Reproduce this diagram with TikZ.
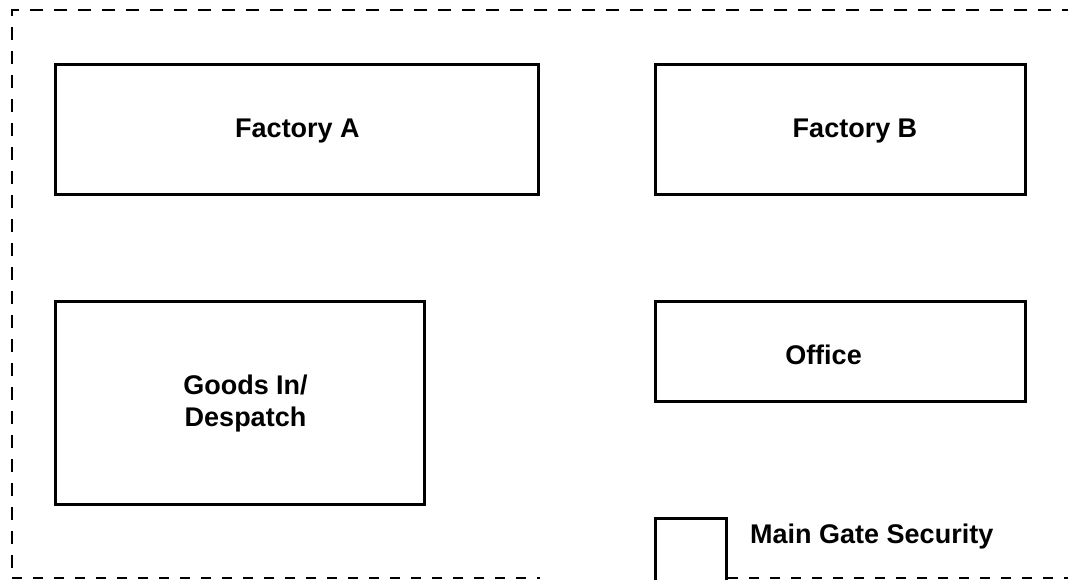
\documentclass[tikz,border=0pt]{standalone}
\usepackage{fontspec}
\setmainfont{Liberation Sans}
\begin{document}
\begin{tikzpicture}[x=1pt,y=-1pt,
  building/.style={draw=black,line width=3pt,inner sep=0pt,outer sep=0pt},
  lbl/.style={font=\bfseries\fontsize{27}{32}\selectfont,inner sep=0pt,align=center},
  fence/.style={draw=black,line width=2pt,dash pattern=on 13pt off 11pt},
  fencelow/.style={draw=black,line width=2.2pt,dash pattern=on 10pt off 11pt}]
\useasboundingbox (0,0) rectangle (1068,579);
\clip (0,0) rectangle (1068,579);
% site boundary
\coordinate (tr) at (1075,10);
\coordinate (tl) at (12,10);
\coordinate (bl) at (12,578);
\coordinate (gl) at (540,578);
\coordinate (gr) at (728,578);
\coordinate (br) at (1075,578);
\draw[fence] (tr) -- (tl) -- (bl);
\draw[fencelow] (bl) -- (gl);
\draw[fencelow] (gr) -- (br);
% buildings
\node[building,minimum width=483pt,minimum height=130pt] (fa) at (296.5,129) {};
\node[lbl,anchor=base] (fat) at (297.5,137) {Factory A};
\node[building,minimum width=370pt,minimum height=130pt] (fb) at (840,129) {};
\node[lbl,anchor=base] (fbt) at (855,137) {Factory B};
\node[building,minimum width=369pt,minimum height=203pt] (gd) at (239.5,402.5) {};
\node[lbl,anchor=base] (gdt) at (245.5,426) {Goods In/\\Despatch};
\node[building,minimum width=370pt,minimum height=100pt] (of) at (840,351) {};
\node[lbl,anchor=base] (oft) at (823.5,364) {Office};
\node[building,minimum width=71pt,minimum height=71pt] (gate) at (690.5,553.5) {};
\node[lbl,anchor=base west] (gatet) at (750,543) {Main Gate Security};
\end{tikzpicture}
\end{document}
